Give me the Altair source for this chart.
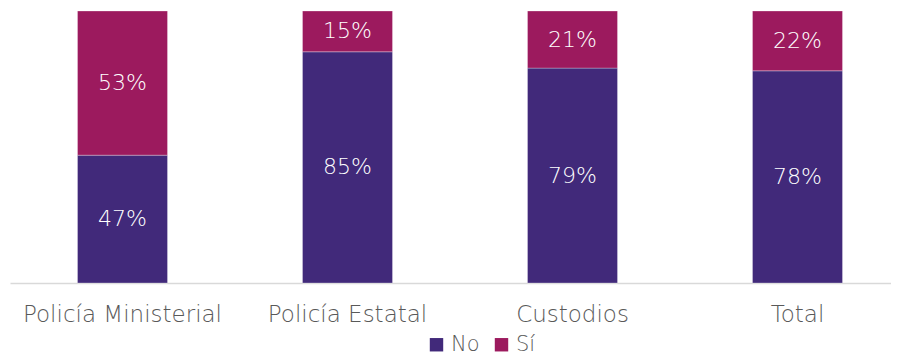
import altair as alt
import pandas as pd

categories = ["Policía Ministerial", "Policía Estatal", "Custodios", "Total"]
no_values = [47, 85, 79, 78]
si_values = [53, 15, 21, 22]
series = ["No", "Sí"]
colors = ["#41297a", "#9c1a5e"]

rows = []
for c, n, s in zip(categories, no_values, si_values):
    rows.append({"cat": c, "resp": "No", "val": n})
    rows.append({"cat": c, "resp": "Sí", "val": s})
df = pd.DataFrame(rows)

FONT = "DejaVu Sans"

x = alt.X("cat:N", sort=categories, title=None,
          scale=alt.Scale(range=[2, 902], paddingInner=0.6, paddingOuter=0.3),
          axis=alt.Axis(labelAngle=0, labelFontSize=23, labelColor="#595959", labelFont=FONT,
                        labelPadding=20, labelLimit=400, ticks=False, domainColor="#d9d9d9",
                        domainWidth=1.5, labelFontWeight=200))

base = alt.Chart(df).transform_stack(
    stack="val", groupby=["cat"], as_=["y0", "y1"], sort=[alt.SortField("resp", order="ascending")]
).transform_calculate(
    mid="(datum.y0 + datum.y1) / 2", lab="datum.val + '%'"
)

bars = base.mark_bar(stroke="#ffffff", strokeWidth=0.3).encode(
    x=x,
    y=alt.Y("y0:Q", scale=alt.Scale(domain=[0, 100], nice=False), axis=None),
    y2="y1:Q",
    color=alt.Color("resp:N", scale=alt.Scale(domain=series, range=colors), title=None,
                    legend=alt.Legend(orient="none", legendX=418, legendY=323, direction="horizontal",
                                      symbolType="square", symbolSize=180, symbolStrokeWidth=0,
                                      labelFontSize=21, labelFont=FONT, labelColor="#595959",
                                      labelFontWeight=200, columnPadding=11, labelOffset=4)),
)

texts = base.mark_text(color="white", fontSize=22, font=FONT, fontWeight=200).encode(
    x=alt.X("cat:N", sort=categories),
    y=alt.Y("mid:Q"),
    text="lab:N",
)

chart = alt.layer(bars, texts).properties(
    width=883, height=272,
    autosize=alt.AutoSizeParams(type="none"),
    padding={"left": 0, "top": 3, "right": 0, "bottom": 73},
).configure_view(stroke=None)

chart.save("out.html", embed_options={"renderer": "svg", "actions": False})
